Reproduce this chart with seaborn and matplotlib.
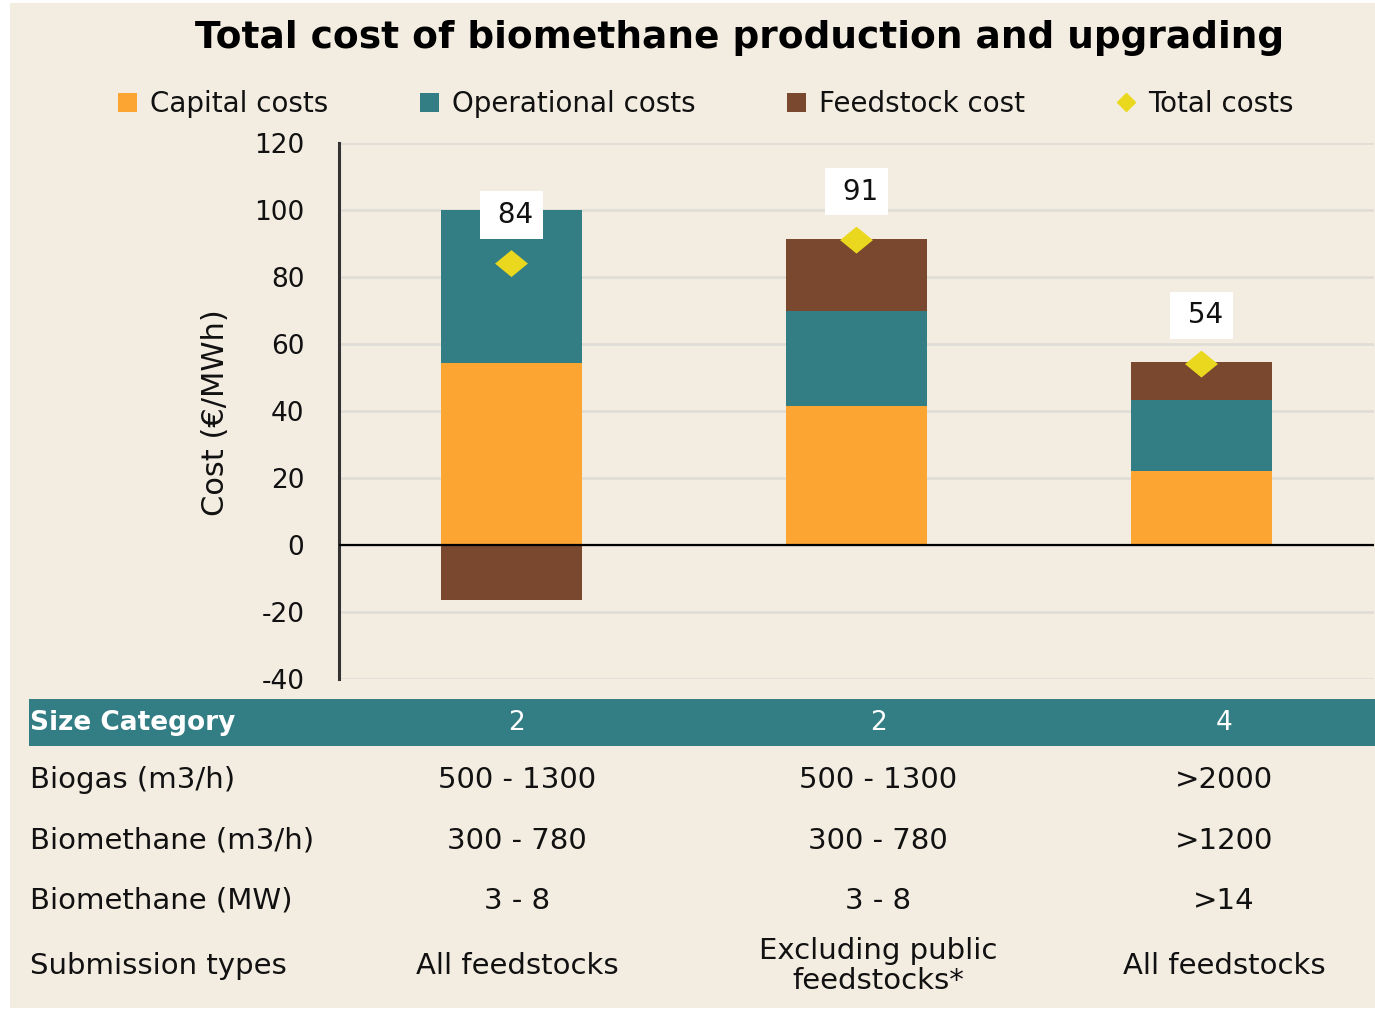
import matplotlib
matplotlib.use("Agg")
import matplotlib.pyplot as plt
import seaborn as sns
import pandas as pd
from matplotlib.patches import Rectangle, Patch
from matplotlib.lines import Line2D

# values (EUR/MWh)
scenarios = ["Size 2 - all feedstocks", "Size 2 - excl. public", "Size 4 - all feedstocks"]
capital = [54.3, 41.5, 22.1]
operational = [45.7, 28.4, 21.2]
feedstock = [-16.4, 21.4, 11.3]
totals = [84, 91, 54]

# table under the chart
size_category = ["2", "2", "4"]
row_names = ["Biogas (m3/h)", "Biomethane (m3/h)", "Biomethane (MW)", "Submission types"]
biogas = ["500 - 1300", "500 - 1300", ">2000"]
biomethane_m3h = ["300 - 780", "300 - 780", ">1200"]
biomethane_mw = ["3 - 8", "3 - 8", ">14"]
submission = ["All feedstocks", "Excluding public\nfeedstocks*", "All feedstocks"]

ORANGE = "#FDA533"
TEAL = "#337E84"
BROWN = "#7A472F"
YELLOW = "#EAD81E"
BG = "#F3ECE1"

sns.set_theme(style="white")
plt.rcParams["font.family"] = ["DejaVu Sans"]
plt.rcParams["text.color"] = "#111111"
plt.rcParams["axes.unicode_minus"] = False

W, H = 1375, 1011
fig = plt.figure(figsize=(W / 100, H / 100), dpi=100, facecolor="white")
fig.patches.append(Rectangle((10 / W, 3 / H), 1 - 10 / W, 1 - 6 / H, transform=fig.transFigure,
                             facecolor=BG, edgecolor="none", zorder=-10))

def fx(px):
    return px / W

def fy(py):
    return 1 - py / H

ax = fig.add_axes([fx(339), fy(679), fx(1374) - fx(339), fy(143) - fy(679)])
ax.set_facecolor(BG)

df = pd.DataFrame({"scenario": scenarios, "capital": capital, "operational": operational,
                   "feedstock": feedstock, "total": totals})
df["cap_op"] = df["capital"] + df["operational"]
df["top"] = df["cap_op"] + df["feedstock"].clip(lower=0)
df["neg"] = df["feedstock"].clip(upper=0)

common = dict(x="scenario", width=0.41, saturation=1, errorbar=None, ax=ax, zorder=2,
              linewidth=0, edgecolor="none")
sns.barplot(data=df, y="top", color=BROWN, **common)
sns.barplot(data=df, y="cap_op", color=TEAL, **common)
sns.barplot(data=df, y="capital", color=ORANGE, **common)
sns.barplot(data=df, y="neg", color=BROWN, **common)

diamond = [(-1, 0), (0, 0.82), (1, 0), (0, -0.82)]
sns.scatterplot(data=df, x="scenario", y="total", marker=diamond, s=560, color=YELLOW,
                edgecolor="none", ax=ax, zorder=4, legend=False)

for i, t in enumerate(totals):
    ax.annotate(" " + str(t), xy=(i, t), xytext=(0, 35), textcoords="offset points",
                ha="center", va="center", fontsize=20, zorder=5,
                bbox=dict(boxstyle="square,pad=0.35", fc="white", ec="none"))

ax.set_ylim(-40, 120)
ax.set_xlim(-0.5, 2.5)
ax.set_yticks(range(-40, 121, 20))
ax.yaxis.grid(True, color="#E0DDD7", linewidth=2, zorder=0)
ax.set_axisbelow(True)
ax.axhline(0, color="black", linewidth=1.6, zorder=3)
for s in ["top", "right", "bottom"]:
    ax.spines[s].set_visible(False)
ax.spines["left"].set_color("#333333")
ax.spines["left"].set_linewidth(2.2)
ax.tick_params(axis="y", length=0, pad=25, labelsize=19, labelcolor="#111111")
ax.set_xticks([])
ax.set_xlabel("")
ax.set_ylabel("")
fig.text(fx(215), fy(413), "Cost (€/MWh)", rotation=90, ha="center", va="center", fontsize=22)

fig.text(fx(740), fy(38), "Total cost of biomethane production and upgrading",
         ha="center", va="center", fontsize=27, fontweight="bold", color="black")

handles = [Patch(facecolor=ORANGE, edgecolor="none"),
           Patch(facecolor=TEAL, edgecolor="none"),
           Patch(facecolor=BROWN, edgecolor="none"),
           Line2D([], [], marker="D", color=YELLOW, linestyle="none", markersize=9)]
labels = ["Capital costs", "Operational costs", "Feedstock cost", "Total costs"]
fig.legend(handles, labels, loc="center", bbox_to_anchor=(fx(706), fy(104)), ncol=4,
           frameon=False, fontsize=20, handlelength=0.7, handleheight=0.7,
           handletextpad=0.45, columnspacing=3.3)

# table
fig.patches.append(Rectangle((fx(29), fy(746)), 1 - fx(29), fy(699) - fy(746),
                             transform=fig.transFigure, facecolor=TEAL, edgecolor="none"))
col_x = [517, 878, 1224]
fig.text(fx(30), fy(723), "Size Category", ha="left", va="center", fontsize=19,
         fontweight="bold", color="white")
for cx, v in zip(col_x, size_category):
    fig.text(fx(cx), fy(723), v, ha="center", va="center", fontsize=19, color="white")

row_y = [780, 841, 901, 966]
rows = [biogas, biomethane_m3h, biomethane_mw, submission]
for ry, name, vals in zip(row_y, row_names, rows):
    fig.text(fx(30), fy(ry), name, ha="left", va="center", fontsize=21)
    for cx, v in zip(col_x, vals):
        fig.text(fx(cx), fy(ry), v, ha="center", va="center", fontsize=21,
                 linespacing=1.05)

fig.savefig("out.png", dpi=100, facecolor=fig.get_facecolor())
